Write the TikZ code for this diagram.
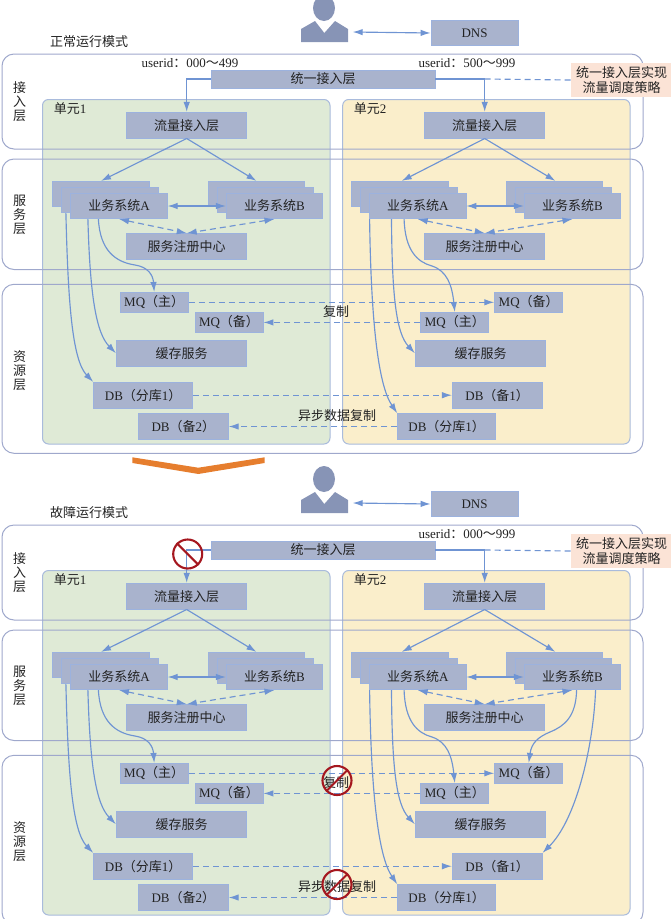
\documentclass[tikz,border=0pt]{standalone}
\usepackage{fontspec}
\setmainfont{Liberation Serif}
\newfontfamily\zhfont{Noto Sans CJK SC}
\newcommand{\Z}[1]{{\zhfont #1}}
\usetikzlibrary{arrows.meta,calc}
\definecolor{boxfill}{HTML}{A9B3CD}
\definecolor{boxline}{HTML}{9CB2DE}
\definecolor{arrowc}{HTML}{6F94D3}
\definecolor{layerc}{HTML}{9FA8CC}
\definecolor{unitg}{HTML}{DFEAD6}
\definecolor{unity}{HTML}{FAEECB}
\definecolor{unitline}{HTML}{A9BBDC}
\definecolor{notec}{HTML}{FBE3D6}
\definecolor{personc}{HTML}{8794B6}
\definecolor{stopc}{HTML}{A5171F}
\definecolor{chev}{HTML}{E67E2E}
\definecolor{textc}{HTML}{222222}
\tikzset{
  x=1pt,y=-1pt,
  every node/.style={font=\fontsize{13}{14}\selectfont,text=textc,inner sep=0pt},
  box/.style={draw=boxline,fill=boxfill,line width=0.8pt,align=center},
  svc/.style={box,minimum width=96.4pt,minimum height=25.4pt},
  wide/.style={box,minimum width=120pt,minimum height=25.8pt},
  mq/.style={box,minimum width=68pt,minimum height=19.8pt},
  link/.style={draw=arrowc,line width=1.15pt,-{Latex[length=10pt,width=6.5pt]}},
  both/.style={draw=arrowc,line width=1.15pt,{Latex[length=10pt,width=6.5pt]}-{Latex[length=10pt,width=6.5pt]}},
  plain/.style={draw=arrowc,line width=1.15pt},
  dashlink/.style={link,dash pattern=on 6pt off 4pt},
  dashboth/.style={both,dash pattern=on 6pt off 4pt},
  dashplain/.style={plain,dash pattern=on 6pt off 4pt},
  layer/.style={draw=layerc,line width=1pt,rounded corners=12pt},
  unit/.style={draw=unitline,line width=1pt,rounded corners=6pt},
  stopsign/.style={draw=stopc,line width=2.1pt,circle,minimum size=29pt},
}
\newcommand{\panel}[4]{%
  % #1 prefix, #2 title, #3 right userid text, #4 extra
  \fill[personc] (324,8) ellipse [x radius=11,y radius=13];
  \fill[personc] (301,42) -- (301,29) -- (315,21) -- (324.3,33) -- (335,21) -- (348,29) -- (348,42) -- cycle;
  \node[minimum width=48pt,minimum height=20pt] (#1user) at (324.5,32) {};
  \node[box,minimum width=87pt,minimum height=25.7pt] (#1dns) at (474.5,33) {DNS};
  \draw[both] ([xshift=4pt]#1user.east) -- (#1dns.west);
  \node (#1title) at (89,41.5) {\Z{#2}};
  \fill[unitg] [rounded corners=6pt] (42.5,99.5) rectangle (330,444);
  \draw[unit] (42.5,99.5) rectangle (330,444);
  \fill[unity] [rounded corners=6pt] (342.7,99.5) rectangle (630,444);
  \draw[unit] (342.7,99.5) rectangle (630,444);
  \draw[layer] (2,54) rectangle (643,149);
  \draw[layer] (2,159) rectangle (643,269.5);
  \draw[layer] (2,284.3) rectangle (643,453.3);
  \node[align=center] (#1la) at (19.5,102) {\Z{接}\\\Z{入}\\\Z{层}};
  \node[align=center] (#1lb) at (19.5,215) {\Z{服}\\\Z{务}\\\Z{层}};
  \node[align=center] (#1lc) at (19.5,371) {\Z{资}\\\Z{源}\\\Z{层}};
  \node (#1ua) at (70,108.7) {\Z{单元}1};
  \node (#1ub) at (370,108.7) {\Z{单元}2};
  \node (#1uidr) at (467,62.7) {#3};
  \node[box,minimum width=224pt,minimum height=18pt] (#1gw) at (323,79) {\Z{统一接入层}};
  \node[fill=notec,minimum width=101pt,minimum height=33.7pt,align=center] (#1note) at (621.5,80) {\Z{统一接入层实现}\\[1pt]\Z{流量调度策略}};
  \coordinate (#1tee) at (484.7,79);
  % flow
  \node[wide] (#1fa) at (186.7,125.2) {\Z{流量接入层}};
  \node[wide] (#1fb) at (484.7,125.2) {\Z{流量接入层}};
  \draw[plain] (#1gw.east) -- (#1tee);
  \draw[dashplain] (#1tee) -- (#1note.west);
  \draw[link] (#1gw.west) -| (#1fa.north);
  \draw[link] (#1tee) -- (#1fb.north);
  % service stacks
  \node[svc] (#1a3) at (101,194) {};
  \node[svc] (#1a2) at (110,200) {};
  \node[svc] (#1a) at (119,206) {\Z{业务系统}A};
  \node[svc] (#1b3) at (256.5,194) {};
  \node[svc] (#1b2) at (265.5,200) {};
  \node[svc] (#1b) at (274.5,206) {\Z{业务系统}B};
  \node[svc] (#1c3) at (399.7,194) {};
  \node[svc] (#1c2) at (408.7,200) {};
  \node[svc] (#1c) at (417.7,206) {\Z{业务系统}A};
  \node[svc] (#1d3) at (554.5,194) {};
  \node[svc] (#1d2) at (563.5,200) {};
  \node[svc] (#1d) at (572.5,206) {\Z{业务系统}B};
  \draw[link] (#1fa.south) -- (#1a3.north);
  \draw[link] (#1fa.south) -- (#1b3.north);
  \draw[link] (#1fb.south) -- ([xshift=2pt]#1c3.north);
  \draw[link] (#1fb.south) -- ([xshift=1pt]#1d3.north);
  \draw[both] (#1a.east) -- (#1b.west);
  \draw[both] (#1c.east) -- (#1d.west);
  % registry
  \node[wide] (#1ra) at (186.7,246.5) {\Z{服务注册中心}};
  \node[wide] (#1rb) at (484.7,246.5) {\Z{服务注册中心}};
  \draw[dashboth] (#1a.south) -- (#1ra.north);
  \draw[dashboth] (#1b.south) -- (#1ra.north);
  \draw[dashboth] (#1c.south) -- (#1rb.north);
  \draw[dashboth] (#1d.south) -- (#1rb.north);
  % resources
  \node[mq] (#1ma) at (154.2,302.3) {MQ\Z{（主）}};
  \node[mq] (#1mb) at (229,322.4) {MQ\Z{（备）}};
  \node[mq] (#1mc) at (528.7,302.3) {MQ\Z{（备）}};
  \node[mq] (#1md) at (454.8,322.4) {MQ\Z{（主）}};
  \node[box,minimum width=130.4pt,minimum height=25.8pt] (#1ca) at (181.5,353.2) {\Z{缓存服务}};
  \node[box,minimum width=130.4pt,minimum height=25.8pt] (#1cb) at (480.5,353.2) {\Z{缓存服务}};
  \node[box,minimum width=99pt,minimum height=25.7pt] (#1da) at (143.2,395.2) {DB\Z{（分库}1\Z{）}};
  \node[box,minimum width=90pt,minimum height=25.7pt] (#1db) at (183.3,426.5) {DB\Z{（备}2\Z{）}};
  \node[box,minimum width=89.7pt,minimum height=25.7pt] (#1dc) at (497.2,395.2) {DB\Z{（备}1\Z{）}};
  \node[box,minimum width=98pt,minimum height=25.7pt] (#1dd) at (446.7,426.5) {DB\Z{（分库}1\Z{）}};
  \draw[dashlink] (#1ma.east) -- (#1mc.west);
  \draw[dashlink] (#1md.west) -- (#1mb.east);
  \draw[dashlink] (#1da.east) -- (#1dc.west);
  \draw[dashlink] (#1dd.west) -- (#1db.east);
  \node (#1rep) at (336,311.5) {\Z{复制}};
  \node (#1asy) at (337,415.5) {\Z{异步数据复制}};
  % curves, unit 1
  \draw[link] ([xshift=4.5pt]#1a2.south west) .. controls (68,300) and (72,360) .. (#1da.north west);
  \draw[link] ([xshift=17.5pt]#1a.south west) .. controls (90,295) and (96,333) .. (#1ca.west);
  \draw[link] ([xshift=28pt]#1a.south west) .. controls (100,250) and (115,262) .. (135,265) .. controls (148,267) and (153,275) .. (#1ma.north);
  % curves, unit 2
  \draw[link] ([xshift=0.5pt]#1c.south west) .. controls (371,320) and (378,385) .. (#1dd.north west);
  \draw[link] ([xshift=22.4pt]#1c.south west) .. controls (392,295) and (396,333) .. (#1cb.west);
  \draw[link] ([xshift=35pt]#1c.south west) .. controls (405,250) and (417,262) .. (432,266) .. controls (447,271) and (452,285) .. (#1md.north);
  #4%
}
\begin{document}
\begin{tikzpicture}
\useasboundingbox (0,0) rectangle (671,919);
\clip (0,0) rectangle (671,919);
\begin{scope}
  \panel{p}{正常运行模式}{userid\Z{：}500\Z{～}999}{}
  \node (puidl) at (190,62.7) {userid\Z{：}000\Z{～}499};
\end{scope}
\fill[chev] (132.3,457.3) -- (198.3,467.7) -- (264.7,457.3) -- (264.7,463) -- (198.3,474) -- (132.3,463) -- cycle;
\begin{scope}[shift={(0,471)}]
  \panel{q}{故障运行模式}{userid\Z{：}000\Z{～}999}{%
    \draw[link] ([xshift=52.7pt]qd.south west) .. controls (576,245) and (565,255) .. (550,261) .. controls (538,266) and (531.5,272) .. (qmc.north);
    \draw[link] ([xshift=71.7pt]qd.south west) .. controls (593,280) and (575,350) .. (qdc.north east);
  }
  \node[stopsign] (qs1) at (187.7,83) {};
  \draw[stopc,line width=2.1pt] (qs1.north west) -- (qs1.south east);
  \node[stopsign] (qs2) at (337,309.5) {};
  \draw[stopc,line width=2.1pt] (qs2.south west) -- (qs2.north east);
  \node[stopsign] (qs3) at (337,413.5) {};
  \draw[stopc,line width=2.1pt] (qs3.south west) -- (qs3.north east);
\end{scope}
\end{tikzpicture}
\end{document}
